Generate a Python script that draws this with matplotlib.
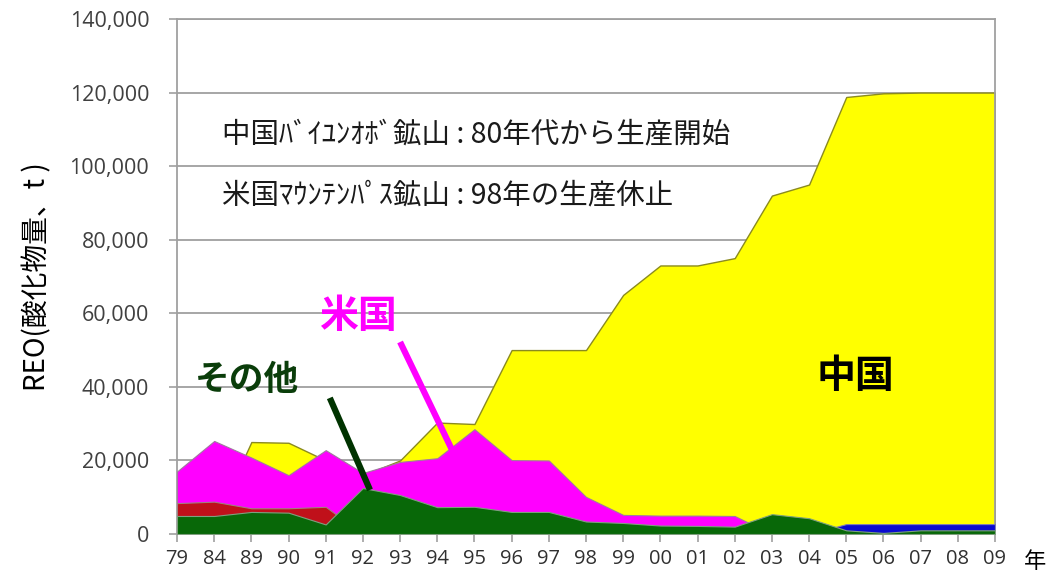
import numpy as np
import matplotlib
matplotlib.use('Agg')
import matplotlib.pyplot as plt

plt.rcParams['font.family'] = ['Noto Sans CJK JP', 'DejaVu Sans']

years = ['79', '84', '89', '90', '91', '92', '93', '94', '95', '96', '97', '98',
         '99', '00', '01', '02', '03', '04', '05', '06', '07', '08', '09']

# visible top of each area (tonnes REO), areas are overlapped, not stacked
china = [1000, 3000, 25000, 24800, 20000, 16000, 20000, 30300, 29900, 50000, 50000, 50000,
         65000, 73000, 73000, 75000, 92000, 95000, 118800, 119800, 120000, 120000, 120000]
usa = [17000, 25300, 20800, 16000, 22800, 16600, 19600, 20600, 28500, 20100, 20000, 10100,
       5200, 5000, 5000, 4900, 0, 0, 0, 0, 0, 0, 0]
red_other = [8400, 8800, 7000, 7000, 7400, 0, 0, 0, 0, 0, 0, 0,
             0, 0, 0, 0, 0, 0, 0, 0, 0, 0, 0]
blue_other = [0, 0, 0, 0, 0, 0, 0, 0, 0, 0, 0, 0,
              0, 0, 0, 0, 0, 0, 2700, 2700, 2700, 2700, 2700]
others = [4900, 4900, 6000, 5800, 2600, 12500, 10600, 7300, 7400, 6000, 6000, 3400,
          3000, 2300, 2200, 2000, 5400, 4300, 1000, 300, 1000, 1000, 1000]

x = np.arange(len(years))

fig = plt.figure(figsize=(10.51, 5.76), dpi=100)
ax = fig.add_axes([0.1684, 0.0729, 0.7783, 0.8941])

ax.set_axisbelow(True)
ax.yaxis.grid(True, color='#a6a6a6', lw=1.4)

ax.fill_between(x, 0, china, color='#ffff00', edgecolor='#8a8a20', lw=1.0, zorder=2)
ax.fill_between(x, 0, usa, color='#ff00ff', edgecolor='#a07aa0', lw=0.8, zorder=3)
ax.fill_between(x, 0, red_other, color='#c0101a', edgecolor='#a08080', lw=0.8, zorder=4)
ax.fill_between(x, 0, blue_other, color='#0a0ad0', edgecolor='#8080b0', lw=0.8, zorder=5)
ax.fill_between(x, 0, others, color='#086808', edgecolor='#7f9f7f', lw=0.8, zorder=6)

ax.set_xlim(0, len(years) - 1)
ax.set_ylim(0, 140000)
ax.set_yticks(np.arange(0, 140001, 20000))
ax.set_yticklabels([f'{v:,}' for v in range(0, 140001, 20000)],
                   family='Open Sans', fontsize=15.5, color='#404040')
ax.set_xticks(x)
ax.set_xticklabels(years, family='Open Sans', fontsize=14.5, color='#303030')
ax.tick_params(axis='both', color='#a0a0a0', length=6, width=1.2)
ax.tick_params(axis='y', pad=14)
ax.tick_params(axis='x', pad=5)

for side in ['left', 'right', 'top', 'bottom']:
    ax.spines[side].set_color('#a0a0a0')
    ax.spines[side].set_linewidth(1.3)

ax.set_ylabel('REO(酸化物量、t )', fontsize=20, color='black', labelpad=12)
fig.text(0.985, 0.025, '年', fontsize=16, ha='center', va='center', color='black')

ax.text(1.2, 108500, '中国ﾊﾞｲﾕﾝｵﾎﾞ鉱山 : 80年代から生産開始', fontsize=20.5,
        color='#1a1a1a', va='center', ha='left', zorder=10)
ax.text(1.2, 92100, '米国ﾏｳﾝﾃﾝﾊﾟｽ鉱山 : 98年の生産休止', fontsize=20.5,
        color='#1a1a1a', va='center', ha='left', zorder=10)

ax.text(4.87, 59000, '米国', fontsize=28, fontweight='bold', color='#ff00ff',
        ha='center', va='center', zorder=10)
ax.text(1.88, 42000, 'その他', fontsize=25, fontweight='bold', color='#0a3d0a',
        ha='center', va='center', zorder=10)
ax.text(18.24, 42700, '中国', fontsize=28, fontweight='bold', color='black',
        ha='center', va='center', zorder=10)

ax.plot([6.0, 7.4], [52200, 22800], color='#ff00ff', lw=4.5, solid_capstyle='butt', zorder=9)
ax.plot([4.11, 5.19], [37000, 12000], color='#003300', lw=4.5, solid_capstyle='butt', zorder=9)

fig.savefig('out.png', dpi=100)
